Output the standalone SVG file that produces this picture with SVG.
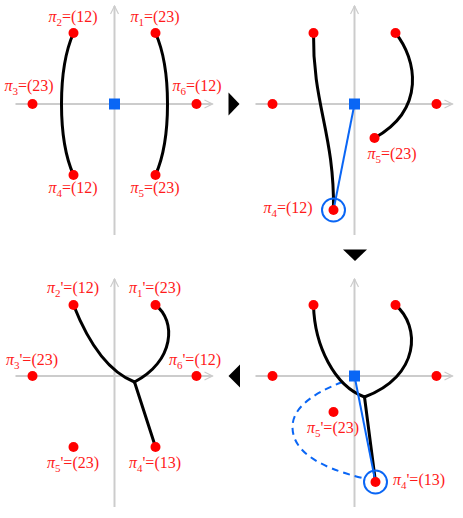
<svg xmlns="http://www.w3.org/2000/svg" width="463" height="518" viewBox="0 0 463 518">
<style>
.ax{stroke:#cccccc;stroke-width:2;fill:none;marker-end:url(#ah)}
.dot{fill:#ff0000}
.sq{fill:#0a66f5}
.br{stroke:#000;stroke-width:3;fill:none;stroke-linecap:round}
.bl{stroke:#0a66f5;stroke-width:2;fill:none}
.dash{stroke:#0a66f5;stroke-width:2;fill:none;stroke-dasharray:7 5}
.ring{stroke:#0a66f5;stroke-width:2;fill:none}
.lb{font-family:"Liberation Serif","Times New Roman",serif;font-size:16px;fill:#ff1a1a;text-anchor:middle}
.pi{font-style:italic}
.sub{font-size:11px}
.tri{fill:#000}
</style>
<defs>
<marker id="ah" viewBox="0 0 10 10" refX="9" refY="5" markerWidth="5" markerHeight="5" orient="auto" markerUnits="strokeWidth">
<path d="M1,1 L9,5 L1,9" fill="none" stroke="#cccccc" stroke-width="1.2"/>
</marker>
</defs>

<!-- Panel 1: top-left -->
<g id="panel-tl" transform="translate(114.5,104)">
<path class="ax" d="M-99,0 H98"/>
<path class="ax" d="M0,131 V-98"/>
<g id="curves-tl">
<path class="br" d="M-41,-71 C-57,-35 -57,35 -41,71"/>
<path class="br" d="M41,-71 C57,-35 57,35 41,71"/>
</g>
<circle class="dot" cx="41" cy="-71" r="5"/>
<circle class="dot" cx="-41" cy="-71" r="5"/>
<circle class="dot" cx="-82" cy="0" r="5"/>
<circle class="dot" cx="82" cy="0" r="5"/>
<circle class="dot" cx="-41" cy="71" r="5"/>
<circle class="dot" cx="41" cy="71" r="5"/>
<rect class="sq" x="-5.5" y="-5.5" width="11" height="11"/>
</g>
<g id="labels-tl">
<text class="lb" x="73" y="22"><tspan class="pi">π</tspan><tspan class="sub" dy="4">2</tspan><tspan dy="-4">=(12)</tspan></text>
<text class="lb" x="155" y="22"><tspan class="pi">π</tspan><tspan class="sub" dy="4">1</tspan><tspan dy="-4">=(23)</tspan></text>
<text class="lb" x="29" y="91"><tspan class="pi">π</tspan><tspan class="sub" dy="4">3</tspan><tspan dy="-4">=(23)</tspan></text>
<text class="lb" x="197" y="91"><tspan class="pi">π</tspan><tspan class="sub" dy="4">6</tspan><tspan dy="-4">=(12)</tspan></text>
<text class="lb" x="73" y="193"><tspan class="pi">π</tspan><tspan class="sub" dy="4">4</tspan><tspan dy="-4">=(12)</tspan></text>
<text class="lb" x="155" y="193"><tspan class="pi">π</tspan><tspan class="sub" dy="4">5</tspan><tspan dy="-4">=(23)</tspan></text>
</g>

<!-- Panel 2: top-right -->
<g id="panel-tr" transform="translate(354.5,104)">
<path class="ax" d="M-99,0 H98"/>
<path class="ax" d="M0,131 V-98"/>
<g id="curves-tr">
<path class="br" d="M-41,-71 C-42,0 -20,30 -21,106"/>
<path class="br" d="M41,-71 C62,-45 72,5 20,34"/>
<path class="bl" d="M0,0 L-21,106"/>
</g>
<circle class="dot" cx="-41" cy="-71" r="5"/>
<circle class="dot" cx="41" cy="-71" r="5"/>
<circle class="dot" cx="-82" cy="0" r="5"/>
<circle class="dot" cx="82" cy="0" r="5"/>
<circle class="dot" cx="20" cy="34" r="5"/>
<circle class="dot" cx="-21" cy="106" r="5"/>
<circle class="ring" cx="-21" cy="106" r="11.5"/>
<rect class="sq" x="-5.5" y="-5.5" width="11" height="11"/>
</g>
<g id="labels-tr">
<text class="lb" x="392" y="159"><tspan class="pi">π</tspan><tspan class="sub" dy="4">5</tspan><tspan dy="-4">=(23)</tspan></text>
<text class="lb" x="288" y="213"><tspan class="pi">π</tspan><tspan class="sub" dy="4">4</tspan><tspan dy="-4">=(12)</tspan></text>
</g>

<!-- Panel 3: bottom-left -->
<g id="panel-bl" transform="translate(114.5,376)">
<path class="ax" d="M-99,0 H98"/>
<path class="ax" d="M0,131 V-97"/>
<g id="curves-bl">
<path class="br" d="M-41,-71 C-28,-38 -8,-5 20,6"/>
<path class="br" d="M41,-71 C62,-55 60,-15 20,6"/>
<path class="br" d="M20,6 L41,71"/>
</g>
<circle class="dot" cx="-41" cy="-71" r="5"/>
<circle class="dot" cx="41" cy="-71" r="5"/>
<circle class="dot" cx="-82" cy="0" r="5"/>
<circle class="dot" cx="82" cy="0" r="5"/>
<circle class="dot" cx="-41" cy="71" r="5"/>
<circle class="dot" cx="41" cy="71" r="5"/>
</g>
<g id="labels-bl">
<text class="lb" x="73" y="293"><tspan class="pi">π</tspan><tspan class="sub" dy="4">2</tspan><tspan dy="-4">'=(12)</tspan></text>
<text class="lb" x="155" y="293"><tspan class="pi">π</tspan><tspan class="sub" dy="4">1</tspan><tspan dy="-4">'=(23)</tspan></text>
<text class="lb" x="32" y="365"><tspan class="pi">π</tspan><tspan class="sub" dy="4">3</tspan><tspan dy="-4">'=(23)</tspan></text>
<text class="lb" x="195" y="365"><tspan class="pi">π</tspan><tspan class="sub" dy="4">6</tspan><tspan dy="-4">'=(12)</tspan></text>
<text class="lb" x="73" y="468"><tspan class="pi">π</tspan><tspan class="sub" dy="4">5</tspan><tspan dy="-4">'=(23)</tspan></text>
<text class="lb" x="155" y="468"><tspan class="pi">π</tspan><tspan class="sub" dy="4">4</tspan><tspan dy="-4">'=(13)</tspan></text>
</g>

<!-- Panel 4: bottom-right -->
<g id="panel-br" transform="translate(354.5,376)">
<path class="ax" d="M-99,0 H98"/>
<path class="ax" d="M0,131 V-97"/>
<g id="curves-br">
<path class="dash" d="M-12,6 Q-62,25 -62,51 Q-62,85 8,102"/>
<path class="br" d="M-41,-71 C-40,-30 -20,10 10,21"/>
<path class="br" d="M41,-71 C66,-50 66,0 10,21"/>
<path class="br" d="M10,21 L21,106"/>
<path class="bl" d="M0,0 L21,106"/>
</g>
<circle class="dot" cx="-41" cy="-71" r="5"/>
<circle class="dot" cx="41" cy="-71" r="5"/>
<circle class="dot" cx="-82" cy="0" r="5"/>
<circle class="dot" cx="82" cy="0" r="5"/>
<circle class="dot" cx="-21" cy="36" r="5"/>
<circle class="dot" cx="21" cy="106" r="5"/>
<circle class="ring" cx="21" cy="106" r="11.5"/>
<rect class="sq" x="-5.5" y="-5.5" width="11" height="11"/>
</g>
<g id="labels-br">
<text class="lb" x="333" y="433"><tspan class="pi">π</tspan><tspan class="sub" dy="4">5</tspan><tspan dy="-4">'=(23)</tspan></text>
<text class="lb" x="419" y="485"><tspan class="pi">π</tspan><tspan class="sub" dy="4">4</tspan><tspan dy="-4">'=(13)</tspan></text>
</g>

<!-- transition arrows -->
<g id="arrows">
<path class="tri" d="M228.5,92.5 L239.5,104 L228.5,115.5 Z"/>
<path class="tri" d="M343,249.5 L367,249.5 L355,261 Z"/>
<path class="tri" d="M228.5,376 L240,364.5 L240,387.5 Z"/>
</g>
</svg>
